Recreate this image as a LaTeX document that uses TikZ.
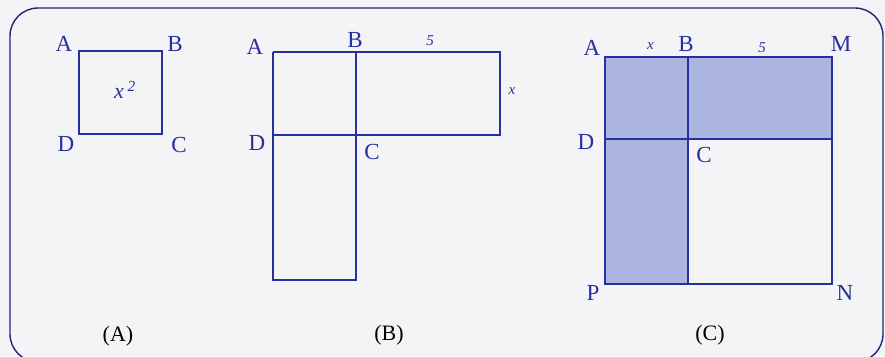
\documentclass[tikz,border=0pt]{standalone}
\usepackage{fontspec}
\setmainfont{Liberation Serif}
\usetikzlibrary{calc,positioning}
\definecolor{inkblue}{RGB}{38,48,158}
\definecolor{framenavy}{RGB}{32,36,120}
\definecolor{shadeblue}{RGB}{172,181,224}
\definecolor{paper}{RGB}{244,244,246}
\begin{document}
\begin{tikzpicture}[x=1pt,y=-1pt,
    lbl/.style={text=inkblue,font=\fontsize{23}{26}\selectfont,inner sep=0pt},
    side/.style={text=inkblue,font=\fontsize{15}{17}\selectfont\itshape,inner sep=0pt},
    caption/.style={font=\fontsize{22}{25}\selectfont,inner sep=0pt},
    edge/.style={inkblue,line width=1.3pt}]
        \useasboundingbox (0,0) rectangle (885,356);
        \fill[paper] (0,0) rectangle (885,356);
        % Frame round the three figures
        \draw[framenavy,line width=1.4pt,rounded corners=28pt] (10,8) rectangle (883,362);
        % Figure (A): the square x^2
        \coordinate (A1) at (79,51);
        \coordinate (B1) at (162,51);
        \coordinate (C1) at (162,134);
        \coordinate (D1) at (79,134);
        \draw[edge] (A1) -- (B1) -- (C1) -- (D1) -- cycle;
        \node[lbl] (la1) at ($(A1)+(-15,-7)$) {A};
        \node[lbl] (lb1) at ($(B1)+(13,-7)$) {B};
        \node[lbl] (lc1) at ($(C1)+(17,11)$) {C};
        \node[lbl] (ld1) at ($(D1)+(-13,10)$) {D};
        \node[lbl,font=\fontsize{22}{26}\selectfont\itshape] (sq1) at (125,90) {x\,$^{\mathit{2}}$};
        \node[caption] (capA) at (118,336) {(A)};
        % Figure (B): square with two rectangles x by 5
        \coordinate (A2) at (273,52);
        \coordinate (B2) at (356,52);
        \coordinate (M2) at (500,52);
        \coordinate (D2) at (273,135);
        \coordinate (C2) at (356,135);
        \coordinate (E2) at (500,135);
        \coordinate (P2) at (273,280);
        \coordinate (F2) at (356,280);
        \draw[edge] (A2) -- (M2) -- (E2) -- (D2);
        \draw[edge] (A2) -- (P2) -- (F2) -- (B2);
        \node[lbl] (la2) at ($(A2)+(-18,-5)$) {A};
        \node[lbl] (lb2) at ($(B2)+(-1,-12)$) {B};
        \node[lbl] (lc2) at ($(C2)+(16,17)$) {C};
        \node[lbl] (ld2) at ($(D2)+(-16,8)$) {D};
        \node[side] (five2) at ($(B2)!0.5!(M2)+(2,-11)$) {5};
        \node[side] (x2) at ($(M2)!0.5!(E2)+(12,-2)$) {x};
        \node[caption] (capB) at (389,335) {(B)};
        % Figure (C): completed square (x+5)^2
        \coordinate (A3) at (605,57);
        \coordinate (B3) at (688,57);
        \coordinate (M3) at (832,57);
        \coordinate (D3) at (605,139);
        \coordinate (C3) at (688,139);
        \coordinate (E3) at (832,139);
        \coordinate (P3) at (605,284);
        \coordinate (F3) at (688,284);
        \coordinate (N3) at (832,284);
        \fill[shadeblue] (A3) -- (M3) -- (E3) -- (C3) -- (F3) -- (P3) -- cycle;
        \draw[edge] (A3) rectangle (N3);
        \draw[edge] (B3) -- (F3);
        \draw[edge] (D3) -- (E3);
        \node[lbl] (la3) at ($(A3)+(-13,-9)$) {A};
        \node[lbl] (lb3) at ($(B3)+(-2,-13)$) {B};
        \node[lbl] (lm3) at ($(M3)+(9,-13)$) {M};
        \node[lbl] (lc3) at ($(C3)+(16,16)$) {C};
        \node[lbl] (ld3) at ($(D3)+(-19,3)$) {D};
        \node[lbl] (lp3) at ($(P3)+(-12,9)$) {P};
        \node[lbl] (ln3) at ($(N3)+(13,9)$) {N};
        \node[side] (x3) at ($(A3)!0.5!(B3)+(4,-11)$) {x};
        \node[side] (five3) at ($(B3)!0.5!(M3)+(2,-9)$) {5};
        \node[caption] (capC) at (710,335) {(C)};
\end{tikzpicture}
\end{document}
